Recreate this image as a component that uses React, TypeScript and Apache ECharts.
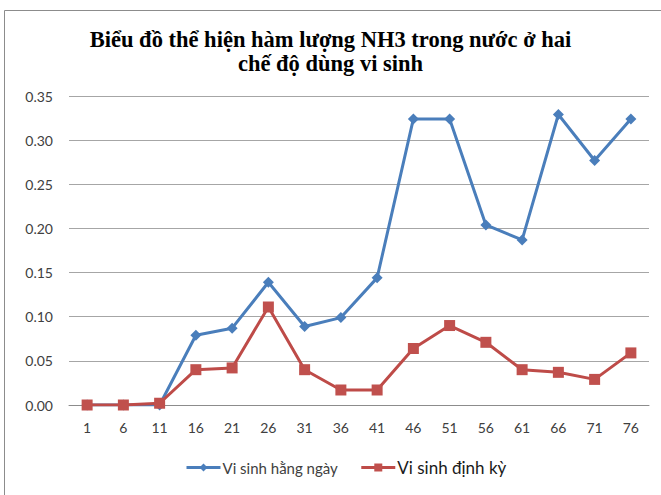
import React, { useEffect, useRef } from "react";
import * as echarts from "echarts";

const titleLines = ["Biểu đồ thể hiện hàm lượng NH3 trong nước ở hai", "chế độ dùng vi sinh"];
const categories = ["1", "6", "11", "16", "21", "26", "31", "36", "41", "46", "51", "56", "61", "66", "71", "76"];
const seriesNames = ["Vi sinh hằng ngày", "Vi sinh định kỳ"];
const dailyValues = [0, 0, 0, 0.079, 0.087, 0.139, 0.089, 0.099, 0.144, 0.324, 0.324, 0.204, 0.187, 0.329, 0.277, 0.324];
const periodicValues = [0, 0, 0.002, 0.04, 0.042, 0.111, 0.04, 0.017, 0.017, 0.064, 0.09, 0.071, 0.04, 0.037, 0.029, 0.059];
const yMin = 0;
const yMax = 0.35;
const yInterval = 0.05;

export default function App() {
  const ref = useRef<HTMLDivElement>(null);
  useEffect(() => {
    if (!ref.current) return;
    const chart = echarts.init(ref.current, null, { renderer: "svg" });
    chart.setOption({
      animation: false,
      backgroundColor: "#ffffff",
      textStyle: { fontFamily: "Lato" },
      title: {
        text: titleLines.join("\n"),
        left: "center",
        top: 22,
        textStyle: {
          fontFamily: "Liberation Serif",
          fontWeight: "bold",
          fontSize: 22.5,
          lineHeight: 24,
          color: "#000000",
        },
      },
      graphic: [
        {
          type: "rect",
          shape: { x: 4.5, y: 10.5, width: 680, height: 500 },
          style: { fill: "none", stroke: "#8c8c8c", lineWidth: 1 },
          silent: true,
        },
      ],
      legend: {
        bottom: 14,
        left: 180,
        itemGap: 22,
        itemWidth: 34,
        itemHeight: 10,
        lineStyle: { width: 3 },
        textStyle: { fontSize: 15, color: "#404040", fontFamily: "Lato", padding: [0, 0, 0, -3] },
        data: [
          { name: seriesNames[0] },
          { name: seriesNames[1], textStyle: { fontSize: 17, color: "#1a1a1a" } },
        ],
      },
      grid: { left: 69, right: 12, top: 96, bottom: 90 },
      xAxis: {
        type: "category",
        data: categories,
        boundaryGap: true,
        axisLine: { show: true, lineStyle: { color: "#8c8c8c" } },
        axisTick: { show: false },
        axisLabel: { fontSize: 14, color: "#404040", margin: 15 },
      },
      yAxis: {
        type: "value",
        min: yMin,
        max: yMax,
        interval: yInterval,
        axisLine: { show: false },
        axisTick: { show: false },
        axisLabel: { fontSize: 14, color: "#404040", margin: 16, formatter: (v: number) => v.toFixed(2) },
        splitLine: { lineStyle: { color: "#a6a6a6" } },
      },
      series: [
        {
          name: seriesNames[0],
          type: "line",
          data: dailyValues,
          symbol: "diamond",
          symbolSize: 11,
          itemStyle: { color: "#4a7ebb" },
          lineStyle: { color: "#4a7ebb", width: 3 },
          z: 2,
        },
        {
          name: seriesNames[1],
          type: "line",
          data: periodicValues,
          symbol: "rect",
          symbolSize: 11,
          itemStyle: { color: "#c0504d" },
          lineStyle: { color: "#be4b48", width: 3 },
          z: 3,
        },
      ],
    });
    return () => chart.dispose();
  }, []);
  return <div ref={ref} style={{ position: "fixed", left: 0, top: 0, width: 661, height: 495 }} />;
}
